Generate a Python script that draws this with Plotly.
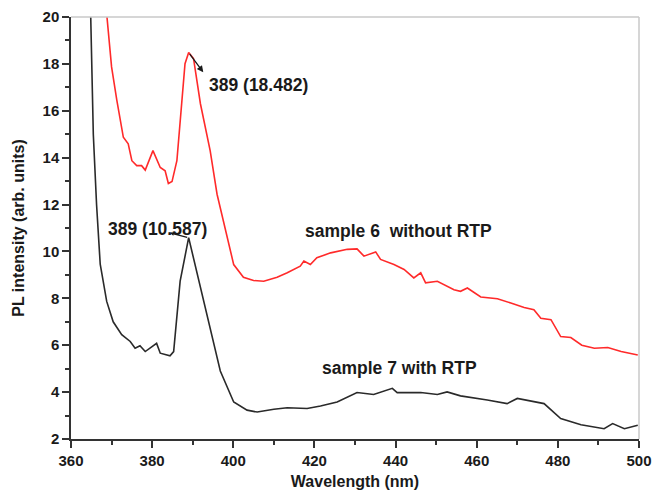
import plotly.graph_objects as go

# Sample 7 with RTP (black)
wl_s7 = [364.8, 365.5, 366.3, 367.2, 368.8, 370.4, 372.5, 374.6, 375.8, 377.0, 378.3,
         381.1, 382.0, 384.4, 385.3, 386.9, 389.0, 393.5, 396.8, 400.1, 403.4, 405.9,
         410.0, 413.3, 418.2, 421.5, 425.6, 430.5, 434.6, 439.2, 440.4, 446.2, 450.3,
         452.7, 456.0, 462.6, 467.5, 470.0, 474.1, 476.6, 480.7, 485.7, 491.4, 493.5,
         496.4, 499.7]
pl_s7 = [20.5, 15.0, 12.0, 9.46, 7.87, 7.0, 6.45, 6.16, 5.87, 5.98, 5.73,
         6.08, 5.66, 5.55, 5.73, 8.73, 10.587, 7.31, 4.9, 3.58, 3.23, 3.15,
         3.27, 3.33, 3.30, 3.41, 3.58, 3.98, 3.90, 4.16, 3.98, 3.98, 3.90,
         4.01, 3.84, 3.66, 3.51, 3.73, 3.58, 3.51, 2.87, 2.61, 2.44, 2.66,
         2.44, 2.59]

# Sample 6 without RTP (red)
wl_s6 = [368.6, 370.0, 371.3, 372.9, 374.1, 375.0, 376.2, 377.4, 378.3, 380.2, 382.0,
         383.2, 384.0, 384.9, 386.1, 388.1, 389.0, 390.2, 391.9, 394.3, 396.0, 396.8,
         400.1, 402.5, 405.0, 407.5, 410.8, 413.3, 416.5, 417.4, 419.0, 420.6, 424.0,
         428.1, 430.5, 432.2, 435.1, 436.3, 439.6, 442.1, 444.5, 446.2, 447.4, 450.3,
         454.4, 456.0, 457.7, 461.0, 465.1, 468.4, 471.7, 474.1, 475.8, 478.3, 480.7,
         483.2, 485.9, 489.0, 492.3, 495.6, 499.7]
pl_s6 = [20.5, 17.87, 16.44, 14.87, 14.59, 13.87, 13.66, 13.66, 13.47, 14.30, 13.58,
         13.44, 12.90, 12.98, 13.87, 18.01, 18.482, 18.23, 16.30, 14.30, 12.44, 11.87,
         9.44, 8.90, 8.76, 8.73, 8.90, 9.09, 9.37, 9.59, 9.44, 9.73, 9.94,
         10.09, 10.11, 9.80, 9.98, 9.66, 9.44, 9.23, 8.87, 9.09, 8.66, 8.73,
         8.37, 8.30, 8.44, 8.06, 7.98, 7.80, 7.61, 7.51, 7.15, 7.09, 6.37,
         6.33, 6.0, 5.87, 5.90, 5.73, 5.58]

peak_wl = [389, 389]
peak_pl = [18.482, 10.587]
peak_labels = ["389 (18.482)", "389 (10.587)"]
series_labels = ["sample 6  without RTP", "sample 7 with RTP"]

x_ticks = [360, 380, 400, 420, 440, 460, 480, 500]
y_ticks = [2, 4, 6, 8, 10, 12, 14, 16, 18, 20]

FONT = "Liberation Sans, Arial, sans-serif"
TXT = "#1a1a1a"

fig = go.Figure()
fig.add_trace(go.Scatter(x=wl_s6, y=pl_s6, mode="lines",
                         line=dict(color="#ff2a2a", width=1.6), showlegend=False))
fig.add_trace(go.Scatter(x=wl_s7, y=pl_s7, mode="lines",
                         line=dict(color="#2a2a2a", width=1.6), showlegend=False))

afont = dict(family=FONT, size=17.5, color=TXT, weight="bold")
# peak labels
fig.add_annotation(x=406.2, y=17.09, text=peak_labels[0], showarrow=False, font=afont)
fig.add_annotation(x=381.2, y=10.96, text=peak_labels[1], showarrow=False, font=afont)
# arrows from peaks
fig.add_annotation(x=392.6, y=17.64, ax=peak_wl[0], ay=peak_pl[0], axref="x", ayref="y",
                   text="", showarrow=True, arrowhead=2, arrowsize=1, arrowwidth=1.3,
                   arrowcolor=TXT, standoff=0, startstandoff=0)
fig.add_annotation(x=384.4, y=10.79, ax=peak_wl[1], ay=peak_pl[1], axref="x", ayref="y",
                   text="", showarrow=True, arrowhead=2, arrowsize=0.6, arrowwidth=1.3,
                   arrowcolor=TXT, standoff=0, startstandoff=0)
# series labels
fig.add_annotation(x=440.8, y=10.87, text=series_labels[0], showarrow=False, font=afont)
fig.add_annotation(x=441.0, y=5.01, text=series_labels[1], showarrow=False, font=afont)

# light gray top/right frame
fig.add_shape(type="line", xref="x domain", yref="y domain", x0=0, x1=1, y0=1, y1=1,
              line=dict(color="#c8c8c8", width=1.5))
fig.add_shape(type="line", xref="x domain", yref="y domain", x0=1, x1=1, y0=0, y1=1,
              line=dict(color="#c8c8c8", width=1.5))

tfont = dict(family=FONT, size=15, color=TXT, weight="bold")
fig.update_xaxes(range=[360, 500], tickmode="array", tickvals=x_ticks,
                 ticktext=[str(v) for v in x_ticks], automargin=False,
                 ticks="outside", ticklen=7, tickwidth=1.5, tickcolor="#333",
                 minor=dict(dtick=10, ticks="outside", ticklen=4, tickwidth=1.5, tickcolor="#333"),
                 showline=True, linecolor="#333", linewidth=1.5, showgrid=False, zeroline=False,
                 tickfont=tfont,
                 title=dict(text="Wavelength (nm)", font=dict(family=FONT, size=16, color=TXT, weight="bold"), standoff=8))
fig.update_yaxes(range=[2, 20], tickmode="array", tickvals=y_ticks,
                 ticktext=[str(v) for v in y_ticks], automargin=False,
                 ticks="outside", ticklen=7, tickwidth=1.5, tickcolor="#333",
                 minor=dict(dtick=1, ticks="outside", ticklen=4, tickwidth=1.5, tickcolor="#333"),
                 showline=True, linecolor="#333", linewidth=1.5, showgrid=False, zeroline=False,
                 tickfont=tfont,
                 title=dict(text="PL intensity (arb. units)", font=dict(family=FONT, size=16, color=TXT, weight="bold"), standoff=14))

fig.update_layout(width=652, height=495, plot_bgcolor="white", paper_bgcolor="white",
                  margin=dict(l=71, r=13, t=17, b=56), showlegend=False)

fig.write_html("out.html", config={"displayModeBar": False},
               post_script="document.body.style.margin='0';document.body.style.overflow='hidden';")
